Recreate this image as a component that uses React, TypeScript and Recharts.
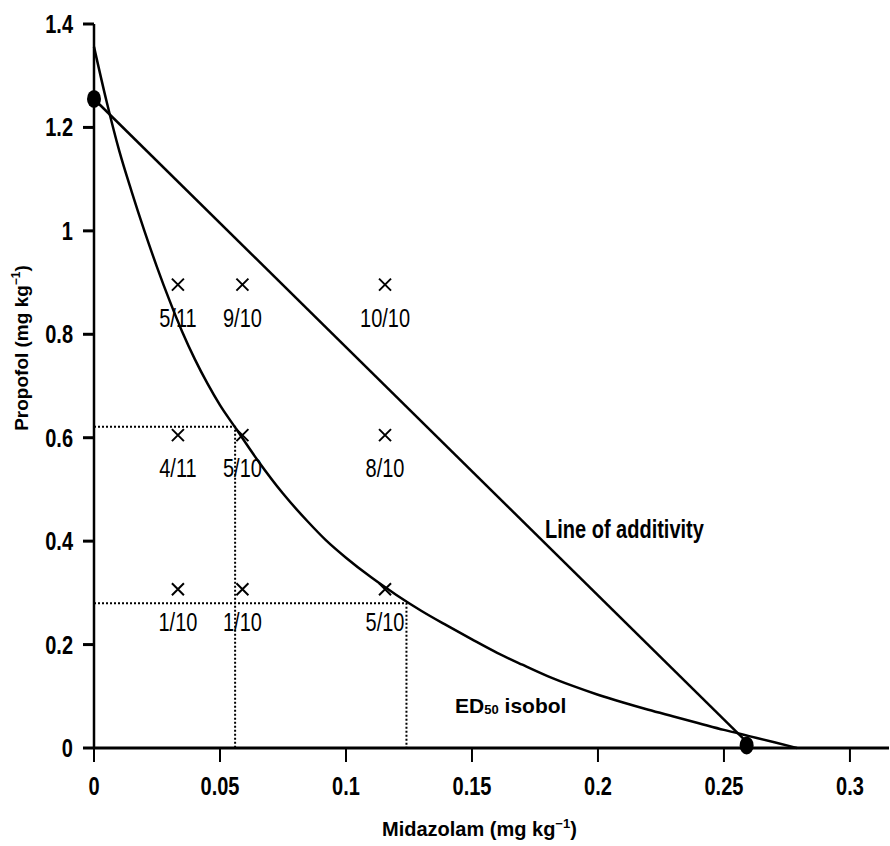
import React from "react";
import { ComposedChart, Line, Scatter, XAxis, YAxis } from "recharts";

const FONT = "'Liberation Sans', Arial, Helvetica, sans-serif";

// axis ticks
const xTicks = [0, 0.05, 0.1, 0.15, 0.2, 0.25, 0.3];
const yTicks = [0, 0.2, 0.4, 0.6, 0.8, 1, 1.2, 1.4];

// trial doses (mg/kg) and responders per cell
const midazolamDoses = [0.0333, 0.0589, 0.1155];
const propofolDoses = [0.896, 0.605, 0.307];
const responders = [
  ["5/11", "9/10", "10/10"],
  ["4/11", "5/10", "8/10"],
  ["1/10", "1/10", "5/10"],
];

// ED50 isobol curve
const isobolX = [
  0, 0.005, 0.01, 0.015, 0.02, 0.025, 0.03, 0.035, 0.04, 0.045, 0.05, 0.056,
  0.065, 0.075, 0.085, 0.092, 0.1, 0.11, 0.12, 0.13, 0.14, 0.15, 0.16, 0.17,
  0.18, 0.19, 0.2, 0.21, 0.22, 0.23, 0.24, 0.25, 0.26, 0.27, 0.279,
];
const isobolY = [
  1.356, 1.25, 1.155, 1.075, 1.0, 0.93, 0.865, 0.805, 0.752, 0.705, 0.663,
  0.62, 0.556, 0.492, 0.437, 0.402, 0.368, 0.33, 0.296, 0.265, 0.237, 0.21,
  0.184, 0.161, 0.139, 0.12, 0.103, 0.088, 0.074, 0.061, 0.048, 0.035, 0.023,
  0.011, 0,
];

// line of additivity between single-drug ED50s
const additivityX = [0, 0.259];
const additivityY = [1.255, 0.012];

// single-drug ED50 points
const ed50X = [0, 0.259];
const ed50Y = [1.255, 0.005];

// dotted read-off lines
const dropHighX = [0, 0.056, 0.056];
const dropHighY = [0.621, 0.621, 0];
const dropLowX = [0, 0.124, 0.124];
const dropLowY = [0.28, 0.28, 0];

const zip = (xs: number[], ys: number[]) => xs.map((x, i) => ({ x, y: ys[i] }));

const isobolData = zip(isobolX, isobolY);
const additivityData = zip(additivityX, additivityY);
const ed50Data = zip(ed50X, ed50Y);
const dropHighData = zip(dropHighX, dropHighY);
const dropLowData = zip(dropLowX, dropLowY);

const trialData = propofolDoses.flatMap((y, r) =>
  midazolamDoses.map((x, c) => ({ x, y, label: responders[r][c] }))
);

const notes = [
  { x: 0.179, y: 0.406, kind: "additivity" },
  { x: 0.1433, y: 0.0677, kind: "isobol" },
];

const XTick = (props: any) => {
  const { x, y, payload } = props;
  return (
    <text
      transform={`translate(${x},${y + 33}) scale(0.8,1)`}
      textAnchor="middle"
      fontFamily={FONT}
      fontWeight="bold"
      fontSize={25}
      fill="#000"
    >
      {String(payload.value)}
    </text>
  );
};

const YTick = (props: any) => {
  const { x, y, payload } = props;
  return (
    <text
      transform={`translate(${x - 10},${y + 9}) scale(0.8,1)`}
      textAnchor="end"
      fontFamily={FONT}
      fontWeight="bold"
      fontSize={25}
      fill="#000"
    >
      {String(payload.value)}
    </text>
  );
};

const Cross = (props: any) => {
  const { cx, cy, payload } = props;
  if (cx == null || cy == null) return null;
  return (
    <g>
      <path
        d={`M${cx - 6},${cy - 6}L${cx + 6},${cy + 6}M${cx + 6},${cy - 6}L${cx - 6},${cy + 6}`}
        stroke="#000"
        strokeWidth={2}
      />
      <text
        transform={`translate(${cx},${cy + 42}) scale(0.8,1)`}
        textAnchor="middle"
        fontFamily={FONT}
        fontSize={25}
        fill="#000"
      >
        {payload.label}
      </text>
    </g>
  );
};

const Dot = (props: any) => {
  const { cx, cy } = props;
  if (cx == null || cy == null) return null;
  return <ellipse cx={cx} cy={cy} rx={7} ry={9} fill="#000" />;
};

const Note = (props: any) => {
  const { cx, cy, payload } = props;
  if (cx == null || cy == null) return null;
  if (payload.kind === "additivity") {
    return (
      <text
        transform={`translate(${cx},${cy}) scale(0.8,1)`}
        fontFamily={FONT}
        fontWeight="bold"
        fontSize={25}
        fill="#000"
      >
        Line of additivity
      </text>
    );
  }
  return (
    <text x={cx} y={cy} fontFamily={FONT} fontWeight="bold" fontSize={21} fill="#000">
      ED
      <tspan fontSize={13} dy={1}>
        50
      </tspan>
      <tspan dy={-1}> isobol</tspan>
    </text>
  );
};

const XTitle = (props: any) => {
  const vb = props.viewBox || { x: 94, y: 748 };
  return (
    <text x={vb.x + 288} y={vb.y + 88} fontFamily={FONT} fontWeight="bold" fontSize={20} fill="#000">
      Midazolam (mg kg
      <tspan fontSize={13} dy={-8}>
        −1
      </tspan>
      <tspan dy={8}>)</tspan>
    </text>
  );
};

const YTitle = (props: any) => {
  const vb = props.viewBox || { x: 0, y: 24 };
  const x = vb.x + 28;
  const y = vb.y + 324;
  return (
    <text
      transform={`translate(${x},${y}) rotate(-90)`}
      textAnchor="middle"
      fontFamily={FONT}
      fontWeight="bold"
      fontSize={19}
      fill="#000"
    >
      Propofol (mg kg
      <tspan fontSize={12} dy={-8}>
        −1
      </tspan>
      <tspan dy={8}>)</tspan>
    </text>
  );
};

export default function App() {
  return (
    <div style={{ position: "absolute", left: 0, top: 0, background: "#fff" }}>
      <ComposedChart
        width={890}
        height={846}
        margin={{ top: 24, right: 1, left: 0, bottom: 0 }}
      >
        <XAxis
          type="number"
          dataKey="x"
          domain={[0, 0.3155]}
          ticks={xTicks}
          height={98}
          tickSize={14}
          tickMargin={0}
          axisLine={{ stroke: "#000", strokeWidth: 3 }}
          tickLine={{ stroke: "#000", strokeWidth: 2 }}
          tick={<XTick />}
          label={{ content: XTitle }}
        />
        <YAxis
          type="number"
          dataKey="y"
          domain={[0, 1.4]}
          ticks={yTicks}
          width={94}
          tickSize={11}
          tickMargin={0}
          axisLine={{ stroke: "#000", strokeWidth: 2.5 }}
          tickLine={{ stroke: "#000", strokeWidth: 3 }}
          tick={<YTick />}
          label={{ content: YTitle }}
        />
        <Line
          data={dropHighData}
          dataKey="y"
          type="linear"
          stroke="#000"
          strokeWidth={2}
          strokeDasharray="2 2"
          dot={false}
          activeDot={false}
          isAnimationActive={false}
        />
        <Line
          data={dropLowData}
          dataKey="y"
          type="linear"
          stroke="#000"
          strokeWidth={2}
          strokeDasharray="2 2"
          dot={false}
          activeDot={false}
          isAnimationActive={false}
        />
        <Line
          data={additivityData}
          dataKey="y"
          type="linear"
          stroke="#000"
          strokeWidth={2.5}
          dot={false}
          activeDot={false}
          isAnimationActive={false}
        />
        <Line
          data={isobolData}
          dataKey="y"
          type="monotone"
          stroke="#000"
          strokeWidth={2.5}
          dot={false}
          activeDot={false}
          isAnimationActive={false}
        />
        <Scatter data={trialData} dataKey="y" shape={Cross} isAnimationActive={false} />
        <Scatter data={ed50Data} dataKey="y" shape={Dot} isAnimationActive={false} />
        <Scatter data={notes} dataKey="y" shape={Note} isAnimationActive={false} />
      </ComposedChart>
    </div>
  );
}
